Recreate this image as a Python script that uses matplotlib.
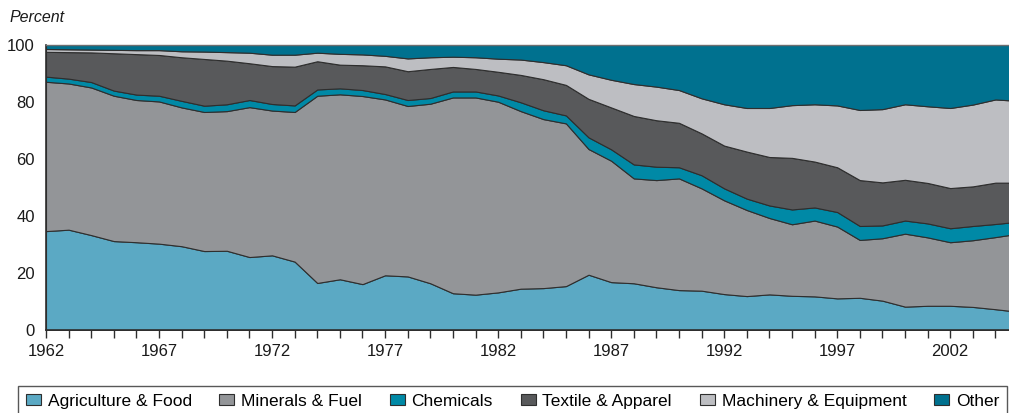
import numpy as np
import matplotlib.pyplot as plt
from matplotlib.ticker import MultipleLocator

plt.rcParams['font.family'] = ['Liberation Sans', 'DejaVu Sans']

years = list(range(1962, 2006))

# shares of exports by product group, percent
agri_food = [34.7, 35.2, 33.3, 31.2, 30.8, 30.3, 29.4, 27.7, 27.8, 25.6, 26.2, 24.0,
             16.5, 17.8, 16.1, 19.2, 18.8, 16.4, 12.9, 12.4, 13.2, 14.5, 14.7, 15.4,
             19.4, 16.8, 16.4, 15.0, 14.0, 13.8, 12.6, 11.9, 12.5, 12.0, 11.8, 11.1,
             11.3, 10.3, 8.2, 8.5, 8.5, 8.1, 7.3, 6.4]
minerals_fuel = [52.4, 51.3, 51.8, 51.0, 49.9, 49.9, 48.7, 48.8, 49.0, 52.6, 50.8, 52.5,
                 65.7, 64.9, 66.0, 61.7, 59.8, 63.0, 68.7, 69.2, 66.9, 62.3, 59.3, 57.1,
                 44.1, 42.6, 36.8, 37.6, 39.2, 35.9, 32.9, 30.2, 26.8, 25.1, 26.6, 25.2,
                 20.3, 21.9, 25.6, 24.0, 22.3, 23.4, 25.3, 27.4]
chemicals = [1.8, 1.7, 1.9, 1.8, 1.9, 2.0, 2.3, 2.2, 2.4, 2.5, 2.3, 2.3,
             2.2, 2.1, 2.1, 1.9, 2.1, 2.0, 2.1, 2.1, 2.2, 3.1, 3.1, 2.8,
             4.1, 4.0, 4.9, 4.7, 3.9, 4.6, 4.2, 4.0, 4.4, 5.2, 4.6, 5.1,
             4.9, 4.5, 4.6, 4.9, 4.9, 5.0, 4.6, 4.2]
textile_apparel = [8.7, 9.3, 10.4, 13.1, 14.2, 14.3, 15.3, 16.4, 15.3, 12.9, 13.3, 13.6,
                   9.9, 8.3, 8.7, 9.7, 10.1, 10.2, 8.6, 7.9, 8.3, 9.6, 10.9, 10.7,
                   13.5, 14.7, 17.0, 16.3, 15.6, 14.7, 15.0, 16.5, 17.0, 18.1, 16.1, 15.7,
                   16.1, 15.1, 14.3, 14.2, 14.1, 13.9, 14.5, 13.7]
machinery_equipment = [1.0, 1.0, 1.0, 1.2, 1.4, 1.7, 2.1, 2.6, 3.0, 3.7, 4.0, 4.2,
                       3.0, 3.8, 3.8, 3.7, 4.5, 4.1, 3.6, 4.1, 4.6, 5.4, 6.0, 6.9,
                       8.6, 9.7, 11.2, 11.8, 11.5, 12.3, 14.5, 15.3, 17.2, 18.5, 20.1, 21.7,
                       24.6, 25.7, 26.5, 26.9, 28.1, 28.7, 29.2, 28.7]

labels = ['Agriculture & Food', 'Minerals & Fuel', 'Chemicals',
          'Textile & Apparel', 'Machinery & Equipment', 'Other']
colors = ['#5ba9c4', '#939598', '#0089a6', '#58595b', '#bdbec2', '#00718f']

layers = np.array([agri_food, minerals_fuel, chemicals, textile_apparel, machinery_equipment])
other = 100 - layers.sum(axis=0)
layers = np.vstack([layers, other])

fig = plt.figure(figsize=(10.09, 4.13), dpi=100)
ax = fig.add_axes([46 / 1009, 83 / 413, 1 - 46 / 1009, 285 / 413])

polys = ax.stackplot(years, layers, colors=colors, labels=labels,
                     edgecolor='#2e2e2e', linewidth=0.8)

ax.set_xlim(1962, 2004.6)
ax.set_ylim(0, 100)
ax.xaxis.set_major_locator(MultipleLocator(5, offset=2))
ax.xaxis.set_minor_locator(MultipleLocator(1))
ax.yaxis.set_major_locator(MultipleLocator(20))
ax.tick_params(axis='x', which='both', direction='out', length=6, width=1,
               color='#2e2e2e', labelsize=12, pad=4, labelcolor='#1a1a1a')
ax.tick_params(axis='y', length=0, labelsize=12, pad=8, labelcolor='#1a1a1a')

ax.spines['right'].set_visible(False)
ax.spines['left'].set_color('#2e2e2e')
ax.spines['bottom'].set_color('#2e2e2e')
ax.spines['left'].set_linewidth(1.2)
ax.spines['bottom'].set_linewidth(1.2)
ax.spines['top'].set_color('#6d6e70')
ax.spines['top'].set_linewidth(1.0)

fig.text(10 / 1009, 1 - 17 / 413, 'Percent', style='italic', fontsize=11.5,
         color='#1a1a1a', va='center', ha='left')

# one-row legend across the bottom, box cut by the lower edge
leg = fig.legend(handles=polys, labels=labels, loc='upper left', ncol=6,
                 bbox_to_anchor=(18 / 1009, 0, 989 / 1009, 1 - 386 / 413),
                 mode='expand', fontsize=12.5, frameon=True, fancybox=False,
                 handlelength=0.85, handleheight=0.55, handletextpad=0.4,
                 borderpad=0.45, borderaxespad=0)
leg.get_frame().set_edgecolor('#2e2e2e')
leg.get_frame().set_linewidth(1.0)
for h in leg.legend_handles:
    h.set_linewidth(0.8)
    h.set_edgecolor('#2e2e2e')

fig.savefig('out.png', dpi=100)
